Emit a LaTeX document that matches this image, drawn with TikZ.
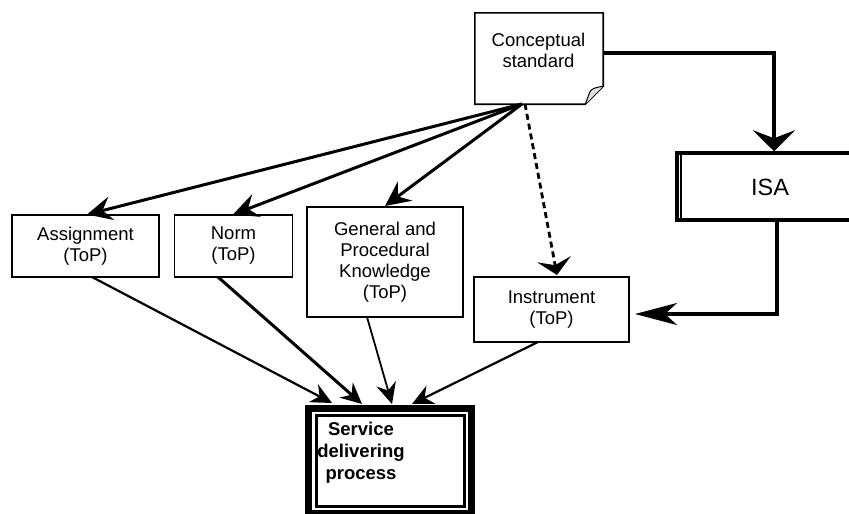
\documentclass[tikz,border=0pt]{standalone}
\usepackage{fontspec}
\setmainfont{Liberation Sans}
\usetikzlibrary{arrows.meta}
\begin{document}
\begin{tikzpicture}[x=1pt, y=-1pt,
  every node/.style={font=\fontsize{18.5}{21}\selectfont, align=center, inner sep=0pt},
  topbox/.style={draw, line width=1.6pt, fill=white},
  fan/.style={line width=3pt, -{Stealth[length=25pt, width=24pt, inset=9pt]}},
  feed/.style={line width=2.2pt, -{Stealth[length=21pt, width=20pt, inset=7pt]}},
  elbow/.style={line width=3.2pt}
]
\useasboundingbox (0,0) rectangle (849,514);
\clip (0,0) rectangle (849,514);

% Conceptual standard: a sheet with a curled lower right corner
\node[minimum width=128pt, minimum height=91pt] (cs) at (539,58.5) {};
\draw[line width=1.6pt, fill=white] (cs.north west) -- (cs.north east) -- ([yshift=18]cs.south east)
  -- ([xshift=-18]cs.south east) -- (cs.south west) -- cycle;
\fill[gray!25] ([yshift=18]cs.south east) .. controls ([shift={(-6,-17)}]cs.south east) and ([shift={(-11,-16)}]cs.south east) .. ([shift={(-13,-13)}]cs.south east)
  -- ([xshift=-18]cs.south east) -- cycle;
\draw[line width=1pt] ([yshift=18]cs.south east) .. controls ([shift={(-6,-17)}]cs.south east) and ([shift={(-11,-16)}]cs.south east) .. ([shift={(-13,-13)}]cs.south east)
  -- ([xshift=-18]cs.south east);
\node (cstxt) at (538.5,50) {Conceptual\\standard};
\coordinate (src) at (522,104);

% Intermediate items
\node[topbox, minimum width=147pt, minimum height=62pt] (asg) at (85.5,246) {Assignment\\(ToP)};
\node[topbox, minimum width=118pt, minimum height=62pt] (norm) at (233.5,246) {Norm\\(ToP)};
\node[topbox, minimum width=156pt, minimum height=110pt] (gpk) at (385,262) {General and\\Procedural\\Knowledge\\(ToP)};
\node[topbox, minimum width=155pt, minimum height=65pt] (ins) at (551.5,309.5) {Instrument\\(ToP)};

% ISA box with doubled left edge
\node[draw, line width=3.5pt, minimum width=194pt, minimum height=67pt] (isa) at (774,186.5) {};
\draw[line width=2.5pt] ([xshift=5.5]isa.north west) -- ([xshift=5.5]isa.south west);
\node[font=\fontsize{23.5}{26}\selectfont] (isatxt) at (770,187) {ISA};

% Service delivering process: triple frame
\node[draw, line width=4pt, minimum width=166pt, minimum height=108pt] (sdp) at (390,461) {};
\draw[line width=4pt] ([shift={(4.8,4.8)}]sdp.north west) rectangle ([shift={(-4.8,-4.8)}]sdp.south east);
\draw[line width=3pt] ([shift={(11.5,10.5)}]sdp.north west) rectangle ([shift={(-10.5,-10.5)}]sdp.south east);
\node[font=\bfseries\fontsize{18.5}{22}\selectfont, align=center] (sdptxt) at (361,453) {Service\\delivering\\process};

% Connectors from the conceptual standard
\draw[fan] (src) -- (87,214.5);
\draw[fan] (src) -- (233,214.5);
\draw[fan] (src) -- (385,206);
\draw[line width=2.8pt, dash pattern=on 6pt off 4pt, -{Stealth[length=16pt, width=34pt, inset=6pt]}] ([xshift=3]src) -- (557,275);
\draw[elbow, -{Stealth[length=21pt, width=42pt, inset=8pt]}] (cs.east |- 0,53) -| (isa.north);
\draw[elbow, -{Stealth[length=42pt, width=22pt, inset=12pt]}] ([xshift=3]isa.south) |- (635,314);

% Connectors into the service delivering process
\draw[feed] (92,277) -- (332,403);
\draw[feed, line width=3pt] (218,277) -- (362,404);
\draw[feed, line width=1.8pt] (367,317) -- (392,404);
\draw[feed] (538,342) -- (412,404);
\end{tikzpicture}
\end{document}
